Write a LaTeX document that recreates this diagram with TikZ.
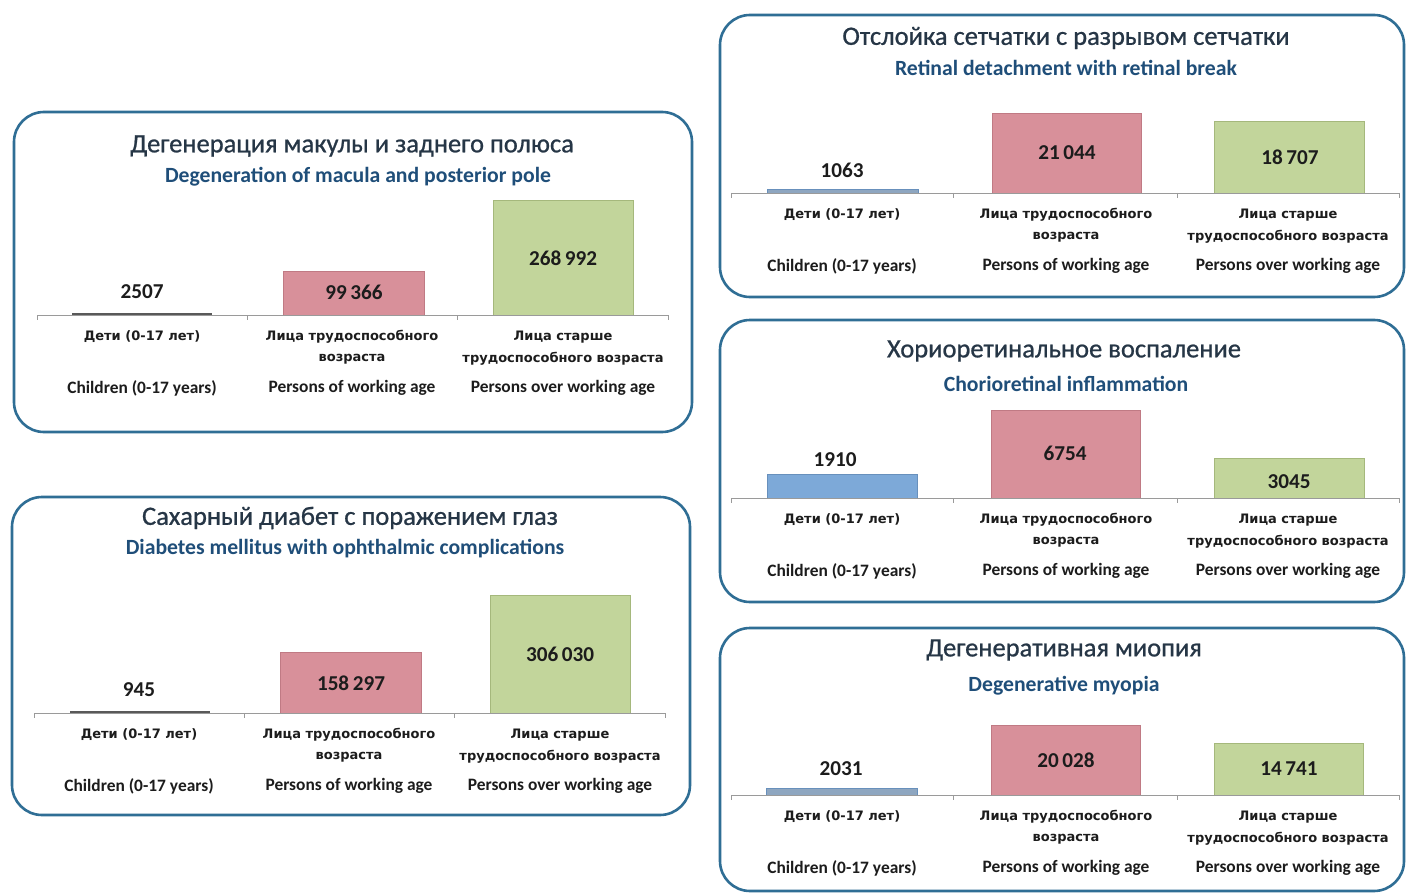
\documentclass[tikz,border=0pt]{standalone}
\usepackage{fontspec}
\setmainfont{Carlito}
\newfontfamily\catfont{DejaVu Sans}
\newfontfamily\ttlfont[FakeBold=0.8]{Carlito}
\definecolor{frame}{HTML}{2F6E95}
\definecolor{ttl}{HTML}{263646}
\definecolor{sub}{HTML}{1F4E79}
\definecolor{pinkbar}{HTML}{D8909A}
\definecolor{pinkedge}{HTML}{C07A84}
\definecolor{greenbar}{HTML}{C2D59B}
\definecolor{greenedge}{HTML}{A5B87C}
\definecolor{bluebar}{HTML}{7DA9D8}
\definecolor{blueedge}{HTML}{6890BC}
\definecolor{greyblue}{HTML}{8EA6C0}
\definecolor{axiscol}{HTML}{9A9A9A}
\definecolor{txt}{HTML}{1C1C1C}
\newcommand{\axiscats}[6]{%
  \draw[axisline] (#3-#6,#2) -- (#5+#6,#2);
  \foreach \xx in {#3-#6,#3+#6,#4+#6,#5+#6} \draw[axisline] (\xx,#2) -- (\xx,#2+5);
  \node[catru] (#1-ru1) at (#3,#2+22) {Дети (0-17 лет)};
  \node[caten] (#1-en1) at (#3,#2+73) {Children (0-17 years)};
  \node[catru] (#1-ru2a) at (#4,#2+22) {Лица трудоспособного};
  \node[catru] (#1-ru2b) at (#4,#2+44) {возраста};
  \node[caten] (#1-en2) at (#4,#2+73) {Persons of working age};
  \node[catru] (#1-ru3a) at (#5,#2+22) {Лица старше};
  \node[catru] (#1-ru3b) at (#5,#2+44) {трудоспособного возраста};
  \node[caten] (#1-en3) at (#5,#2+73) {Persons over working age};
}
\begin{document}
\begin{tikzpicture}[x=1pt,y=-1pt,
  panel/.style={draw=frame, line width=2.6pt, rounded corners=30pt},
  ttlru/.style={font=\ttlfont\fontsize{26.5}{30}\selectfont, text=ttl, inner sep=0},
  ttlen/.style={font=\bfseries\fontsize{21.7}{25}\selectfont, text=sub, inner sep=0},
  val/.style={font=\bfseries\fontsize{21.2}{24}\selectfont, text=txt, inner sep=0},
  catru/.style={font=\catfont\bfseries\fontsize{13}{15}\selectfont, text=txt, inner sep=0},
  caten/.style={font=\bfseries\fontsize{17.4}{20}\selectfont, text=txt, inner sep=0},
  axisline/.style={draw=axiscol, line width=0.8pt},
  pinkb/.style={fill=pinkbar, draw=pinkedge, line width=0.8pt},
  greenb/.style={fill=greenbar, draw=greenedge, line width=0.8pt},
  blueb/.style={fill=bluebar, draw=blueedge, line width=0.8pt},
  greyb/.style={fill=greyblue, draw=blueedge, line width=0.8pt},
  thinb/.style={fill=black!65}]
\useasboundingbox (0,0) rectangle (1407,893);
\fill[white] (0,0) rectangle (1407,893);
% Panel A
\draw[panel] (14,112) rectangle (692,432);
\node[ttlru] (a-t) at (352,146) {Дегенерация макулы и заднего полюса};
\node[ttlen] (a-s) at (358,177) {Degeneration of macula and posterior pole};
\fill[thinb] (72,313) rectangle (212,315);
\draw[pinkb] (283,271) rectangle (424,315);
\draw[greenb] (493,200) rectangle (633,315);
\axiscats{a}{315}{142}{352}{563}{105}
\node[val] (a-v1) at (142,292) {2507};
\node[val] (a-v2) at (354,292) {99\,366};
\node[val] (a-v3) at (563,258) {268\,992};
% Panel B
\draw[panel] (12,497) rectangle (690,815);
\node[ttlru] (b-t) at (350,518) {Сахарный диабет с поражением глаз};
\node[ttlen] (b-s) at (345,549) {Diabetes mellitus with ophthalmic complications};
\fill[thinb] (70,711) rectangle (210,713);
\draw[pinkb] (280,652) rectangle (421,713);
\draw[greenb] (490,595) rectangle (630,713);
\axiscats{b}{713}{139}{349}{560}{105}
\node[val] (b-v1) at (139,690) {945};
\node[val] (b-v2) at (351,683) {158\,297};
\node[val] (b-v3) at (560,654) {306\,030};
% Panel C
\draw[panel] (720,15) rectangle (1404,297);
\node[ttlru] (c-t) at (1066,38) {Отслойка сетчатки с разрывом сетчатки};
\node[ttlen] (c-s) at (1066,68) {Retinal detachment with retinal break};
\draw[greyb] (767,189) rectangle (918,193);
\draw[pinkb] (992,113) rectangle (1141,193);
\draw[greenb] (1214,121) rectangle (1364,193);
\axiscats{c}{193}{842}{1066}{1288}{111}
\node[val] (c-v1) at (842,170) {1063};
\node[val] (c-v2) at (1067,153) {21\,044};
\node[val] (c-v3) at (1290,157) {18\,707};
% Panel D
\draw[panel] (720,320) rectangle (1404,602);
\node[ttlru] (d-t) at (1064,351) {Хориоретинальное воспаление};
\node[ttlen] (d-s) at (1066,384) {Chorioretinal inflammation};
\draw[blueb] (767,474) rectangle (917,498);
\draw[pinkb] (991,410) rectangle (1140,498);
\draw[greenb] (1214,458) rectangle (1364,498);
\axiscats{d}{498}{842}{1066}{1288}{111}
\node[val] (d-v1) at (835,460) {1910};
\node[val] (d-v2) at (1065,453) {6754};
\node[val] (d-v3) at (1289,482) {3045};
% Panel E
\draw[panel] (720,628) rectangle (1404,891);
\node[ttlru] (e-t) at (1064,650) {Дегенеративная миопия};
\node[ttlen] (e-s) at (1064,686) {Degenerative myopia};
\draw[greyb] (766,788) rectangle (917,795);
\draw[pinkb] (991,725) rectangle (1140,795);
\draw[greenb] (1214,743) rectangle (1363,795);
\axiscats{e}{795}{842}{1066}{1288}{111}
\node[val] (e-v1) at (841,769) {2031};
\node[val] (e-v2) at (1066,760) {20\,028};
\node[val] (e-v3) at (1289,769) {14\,741};
\end{tikzpicture}
\end{document}
